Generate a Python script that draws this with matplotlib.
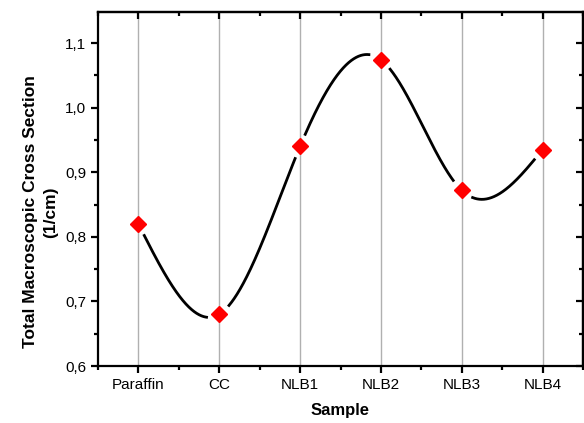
import numpy as np
import matplotlib
matplotlib.use("Agg")
import matplotlib.pyplot as plt
from matplotlib.ticker import FixedLocator, MultipleLocator, FuncFormatter, NullFormatter

samples = ["Paraffin", "CC", "NLB1", "NLB2", "NLB3", "NLB4"]
values = [0.820, 0.680, 0.940, 1.074, 0.872, 0.935]

plt.rcParams['font.family'] = ['Liberation Sans', 'DejaVu Sans']

def natural_spline(x, y, xs):
    x = np.asarray(x, float); y = np.asarray(y, float)
    n = len(x)
    h = np.diff(x)
    A = np.zeros((n, n)); b = np.zeros(n)
    A[0, 0] = 1; A[-1, -1] = 1
    for i in range(1, n - 1):
        A[i, i - 1] = h[i - 1]; A[i, i] = 2 * (h[i - 1] + h[i]); A[i, i + 1] = h[i]
        b[i] = 3 * ((y[i + 1] - y[i]) / h[i] - (y[i] - y[i - 1]) / h[i - 1])
    c = np.linalg.solve(A, b)
    out = np.empty_like(xs)
    for k, t in enumerate(xs):
        i = min(max(np.searchsorted(x, t) - 1, 0), n - 2)
        bi = (y[i + 1] - y[i]) / h[i] - h[i] * (2 * c[i] + c[i + 1]) / 3
        di = (c[i + 1] - c[i]) / (3 * h[i])
        dx = t - x[i]
        out[k] = y[i] + bi * dx + c[i] * dx ** 2 + di * dx ** 3
    return out

fig = plt.figure(figsize=(5.84, 4.23), dpi=100)
ax = fig.add_axes([98 / 584, 57 / 423, 485 / 584, 354 / 423])

xi = np.arange(len(samples))
xs = np.linspace(0, len(samples) - 1, 2000)
ys = natural_spline(xi, values, xs)

ax.set_xlim(-0.5, 5.5)
ax.set_ylim(0.6, 1.148)

# mask curve near markers (gap like Origin)
fig.canvas.draw()
trans = ax.transData
pts = trans.transform(np.column_stack([xs, ys]))
mk = trans.transform(np.column_stack([xi, values]))
mask = np.ones(len(xs), bool)
for p in mk:
    d = np.hypot(pts[:, 0] - p[0], pts[:, 1] - p[1])
    mask &= d > 13
ys_m = np.where(mask, ys, np.nan)

for x in xi:
    ax.axvline(x, color='#b0b0b0', lw=1.0, zorder=0)
ax.plot(xs, ys_m, color='black', lw=2.0, zorder=2)
ax.plot(xi, values, ls='none', marker='D', ms=8, color='#ff0000', mec='#ff0000', zorder=3)

ax.xaxis.set_major_locator(FixedLocator(xi))
ax.set_xticklabels(samples)
ax.xaxis.set_minor_locator(FixedLocator(np.arange(-0.5, 5.6, 1.0)))
ax.yaxis.set_major_locator(MultipleLocator(0.1))
ax.yaxis.set_minor_locator(MultipleLocator(0.05))
ax.yaxis.set_major_formatter(FuncFormatter(lambda v, p: f"{v:.1f}".replace('.', ',')))

for s in ax.spines.values():
    s.set_linewidth(1.6)
ax.tick_params(axis='both', which='major', length=5, width=1.6, labelsize=11, direction='out')
ax.tick_params(axis='both', which='minor', length=3, width=1.6, direction='out')

# top and right ticks pointing inward
top = ax.secondary_xaxis('top')
top.xaxis.set_major_locator(FixedLocator(xi))
top.xaxis.set_minor_locator(FixedLocator(np.arange(-0.5, 5.6, 1.0)))
top.xaxis.set_major_formatter(NullFormatter())
top.tick_params(which='major', direction='in', length=5, width=1.6)
top.tick_params(which='minor', direction='in', length=3, width=1.6)
top.spines['top'].set_linewidth(1.6)

right = ax.secondary_yaxis('right')
right.yaxis.set_major_locator(MultipleLocator(0.1))
right.yaxis.set_minor_locator(MultipleLocator(0.05))
right.yaxis.set_major_formatter(NullFormatter())
right.tick_params(which='major', direction='in', length=5, width=1.6)
right.tick_params(which='minor', direction='in', length=3, width=1.6)
right.spines['right'].set_linewidth(1.6)

ax.set_xlabel("Sample", fontsize=12, fontweight='bold', labelpad=8)
ax.set_ylabel("Total Macroscopic Cross Section\n(1/cm)", fontsize=12.5, fontweight='bold',
              labelpad=5, linespacing=1.4, y=0.435)

fig.savefig("out.png", dpi=100)
